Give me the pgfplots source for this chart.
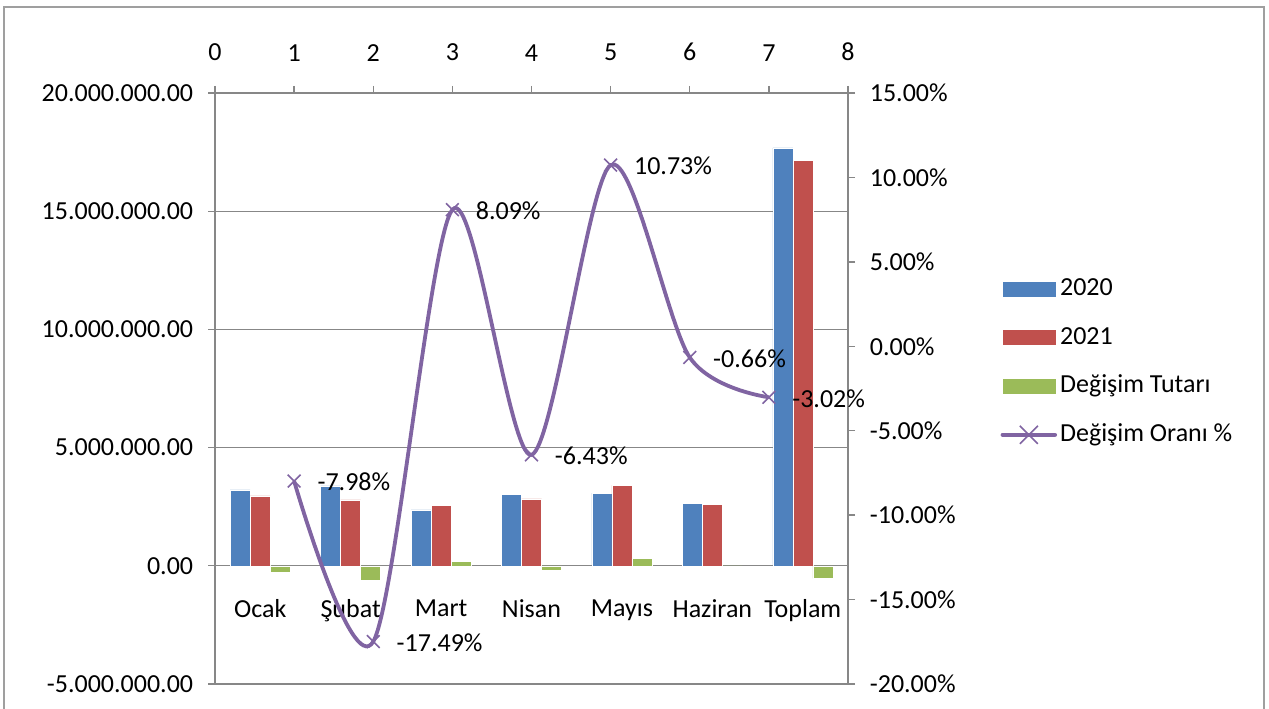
\documentclass[border=0pt]{standalone}
\usepackage{fontspec}
\setmainfont{Carlito}
\usepackage{pgfplots}
\pgfplotsset{compat=1.18}
\definecolor{c2020}{HTML}{4F81BD}
\definecolor{c2021}{HTML}{C0504D}
\definecolor{cdiff}{HTML}{9BBB59}
\definecolor{cline}{HTML}{8064A2}
\definecolor{axgray}{HTML}{878787}
\newcommand{\bigf}{\fontsize{26}{31}\selectfont}
\begin{document}
\bigf
\begin{tikzpicture}[x=1pt,y=1pt]
\fill[white] (0,0) rectangle (1269,709);
\useasboundingbox (0,0) rectangle (1269,709);
\draw[axgray!80, line width=1.5pt] (4,-10) rectangle (1264,702);

\begin{axis}[
  at={(215pt,25pt)}, anchor=south west,
  scale only axis, width=633pt, height=591pt,
  xmin=0, xmax=7, ymin=-5000000, ymax=20000000,
  scaled y ticks=false,
  axis x line*=middle, axis y line*=left,
  axis line style={axgray, line width=1.3pt},
  ymajorgrids, major grid style={axgray, line width=1.3pt},
  ytick={-5000000,0,5000000,10000000,15000000,20000000},
  yticklabels={-5.000.000.00,0.00,5.000.000.00,10.000.000.00,15.000.000.00,20.000.000.00},
  xtick={0.5,1.5,2.5,3.5,4.5,5.5,6.5},
  xticklabels={Ocak,Şubat,Mart,Nisan,Mayıs,Haziran,Toplam},
  xtick style={draw=none},
  extra x ticks={1,2,3,4,5,6}, extra x tick labels={},
  extra x tick style={tick align=outside, major tick length=8pt, tick style={axgray, line width=1.3pt}},
  ytick style={axgray, line width=1.3pt},
  tick align=outside, major tick length=7pt,
  ticklabel style={font=\bigf},
  xticklabel style={yshift=-18pt},
  yticklabel style={xshift=-6pt},
  clip=false,
]
\addplot[ybar, bar width=20pt, bar shift=-20pt, fill=c2020, draw=white, line width=0.3pt]
  coordinates {(0.5,3210000) (1.5,3380000) (2.5,2370000) (3.5,3030000) (4.5,3070000) (5.5,2630000) (6.5,17680000)};
\addplot[ybar, bar width=20pt, bar shift=0pt, fill=c2021, draw=white, line width=0.3pt]
  coordinates {(0.5,2954000) (1.5,2789000) (2.5,2562000) (3.5,2835000) (4.5,3399000) (5.5,2613000) (6.5,17146000)};
\addplot[ybar, bar width=20pt, bar shift=20pt, fill=cdiff, draw=white, line width=0.3pt]
  coordinates {(0.5,-256000) (1.5,-591000) (2.5,192000) (3.5,-195000) (4.5,329000) (5.5,-17000) (6.5,-534000)};
\end{axis}

\begin{axis}[
  at={(215pt,25pt)}, anchor=south west,
  scale only axis, width=633pt, height=591pt,
  xmin=0, xmax=8, ymin=-20, ymax=15,
  axis x line*=top, axis y line*=right,
  axis line style={axgray, line width=1.3pt},
  tick style={axgray, line width=1.3pt},
  tick align=outside, major tick length=7pt,
  xtick={0,1,2,3,4,5,6,7,8},
  xticklabels={0,1,2,3,4,5,6,7,8},
  ytick={-20,-15,-10,-5,0,5,10,15},
  yticklabels={-20.00\%,-15.00\%,-10.00\%,-5.00\%,0.00\%,5.00\%,10.00\%,15.00\%},
  ticklabel style={font=\bigf},
  xticklabel style={yshift=16pt},
  yticklabel style={xshift=6pt},
  clip=false,
  legend cell align=left,
  legend style={draw=none, fill=none, at={(1.236,0.545)}, anchor=west,
    font=\bigf, row sep=17.6pt,
    nodes={text height=19pt, text depth=6pt, inner sep=3pt}},
]
\addlegendimage{legend image code/.code={\fill[c2020] (0pt,-7pt) rectangle (52pt,7pt);}}
\addlegendentry{2020}
\addlegendimage{legend image code/.code={\fill[c2021] (0pt,-7pt) rectangle (52pt,7pt);}}
\addlegendentry{2021}
\addlegendimage{legend image code/.code={\fill[cdiff] (0pt,-7pt) rectangle (52pt,7pt);}}
\addlegendentry{Değişim Tutarı}
\addplot[cline, line width=3.8pt, smooth, mark=x, mark size=9pt,
  mark options={line width=1.6pt},
  legend image code/.code={\draw[cline, line width=4.5pt, line cap=round] (0pt,0pt) -- (52pt,0pt);
     \draw[cline, line width=1.6pt] (17pt,-9pt) -- (35pt,9pt) (17pt,9pt) -- (35pt,-9pt);},
  nodes near coords, point meta=explicit symbolic,
  every node near coord/.append style={anchor=west, xshift=14pt, yshift=-1pt, text=black, font=\bigf}]
  coordinates {(1,-7.98) [-7.98\%] (2,-17.49) [-17.49\%] (3,8.09) [8.09\%] (4,-6.43) [-6.43\%] (5,10.73) [10.73\%] (6,-0.66) [-0.66\%] (7,-3.02) [-3.02\%]};
\addlegendentry{Değişim Oranı \%}
\end{axis}
\end{tikzpicture}
\end{document}
